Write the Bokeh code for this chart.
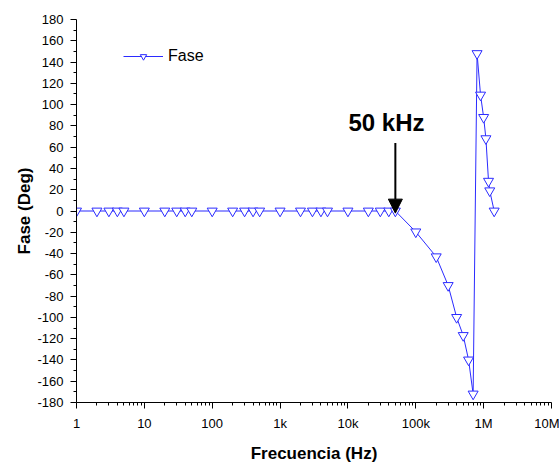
from bokeh.plotting import figure
from bokeh.models import (FixedTicker, Legend, LegendItem, Arrow, NormalHead, Label, Range1d, Title)
from bokeh.embed import file_html
from bokeh.resources import INLINE

# Data
freq = [1, 2, 3, 4, 5,
        10, 20, 30, 40, 50,
        100, 200, 300, 400, 500,
        1e3, 2e3, 3e3, 4e3, 5e3,
        1e4, 2e4, 3e4, 4e4, 5e4,
        1e5, 2e5, 3e5, 4e5, 5e5, 6e5, 7e5, 8e5, 9e5,
        1e6, 1.08e6, 1.18e6, 1.23e6, 1.43e6]
phase = [0, 0, 0, 0, 0,
         0, 0, 0, 0, 0,
         0, 0, 0, 0, 0,
         0, 0, 0, 0, 0,
         0, 0, 0, 0, 0,
         -19.6, -43, -70, -100, -117, -140, -172, 148, 109,
         88, 68, 28, 19, 0]

x_ticks = [1, 10, 100, 1e3, 1e4, 1e5, 1e6, 1e7]
x_tick_labels = ["1", "10", "100", "1k", "10k", "100k", "1M", "10M"]
y_ticks = list(range(-180, 181, 20))

annot_text = "50 kHz"
annot_freq = 5e4

FONT = "Liberation Sans"
BLUE = "#2b2bff"

p = figure(width=559, height=465, x_axis_type="log",
           x_range=Range1d(1, 1e7), y_range=Range1d(-180, 180),
           output_backend="svg", toolbar_location=None,
           min_border_left=76, min_border_right=8, min_border_top=19, min_border_bottom=56)
p.outline_line_color = None
p.xgrid.visible = False
p.ygrid.visible = False
p.background_fill_color = "white"
p.border_fill_color = "white"

r_line = p.line(freq, phase, line_color=BLUE, line_width=1)
r_mark = p.scatter(freq, phase, marker="inverted_triangle", size=10,
                   line_color=BLUE, fill_color="white", line_width=1)

# axes
minor_x = []
for d in x_ticks[:-1]:
    minor_x += [d * k for k in range(2, 10)]
p.xaxis.ticker = FixedTicker(ticks=x_ticks, minor_ticks=minor_x)
p.xaxis.major_label_overrides = {t: l for t, l in zip(x_ticks, x_tick_labels)}
p.yaxis.ticker = FixedTicker(ticks=y_ticks, minor_ticks=list(range(-170, 180, 20)))
p.yaxis.major_label_overrides = {t: str(t) for t in y_ticks}

for ax in (p.xaxis, p.yaxis):
    ax.axis_line_color = "black"
    ax.major_tick_line_color = "black"
    ax.minor_tick_line_color = "black"
    ax.major_tick_out = 6
    ax.major_tick_in = 0
    ax.minor_tick_out = 3
    ax.minor_tick_in = 0
    ax.major_label_text_font = FONT
    ax.major_label_text_font_size = "13px"
    ax.major_label_text_color = "black"
    ax.major_label_standoff = 7
    ax.axis_label_text_font = FONT
    ax.axis_label_text_font_style = "bold"
    ax.axis_label_text_font_size = "17px"
    ax.axis_label_text_color = "black"

p.xaxis.axis_label = "Frecuencia (Hz)"
p.xaxis.axis_label_standoff = 10

# y-axis title, slightly below the frame centre as in the reference
p.add_layout(Title(text="Fase (Deg)", align="center", offset=-18, standoff=2,
                   text_font=FONT, text_font_style="bold", text_font_size="17px",
                   text_color="black"), "left")

# legend
legend = Legend(items=[LegendItem(label="Fase", renderers=[r_line, r_mark])],
                location=(47, 337), padding=0, margin=0, spacing=0,
                glyph_width=40, glyph_height=16, label_standoff=5,
                border_line_color=None, background_fill_alpha=0,
                label_text_font=FONT, label_text_font_size="16px",
                label_text_color="black")
p.add_layout(legend)

# annotation
p.add_layout(Arrow(end=NormalHead(size=14, fill_color="black", line_color="black"),
                   x_start=annot_freq, y_start=64, x_end=annot_freq, y_end=-2,
                   line_color="black", line_width=2))
p.add_layout(Label(x=3.7e4, y=83, text=annot_text, text_font=FONT,
                   text_font_style="bold", text_font_size="24px",
                   text_align="center", text_baseline="middle", text_color="black"))

open("out.html", "w").write(file_html(p, INLINE))
